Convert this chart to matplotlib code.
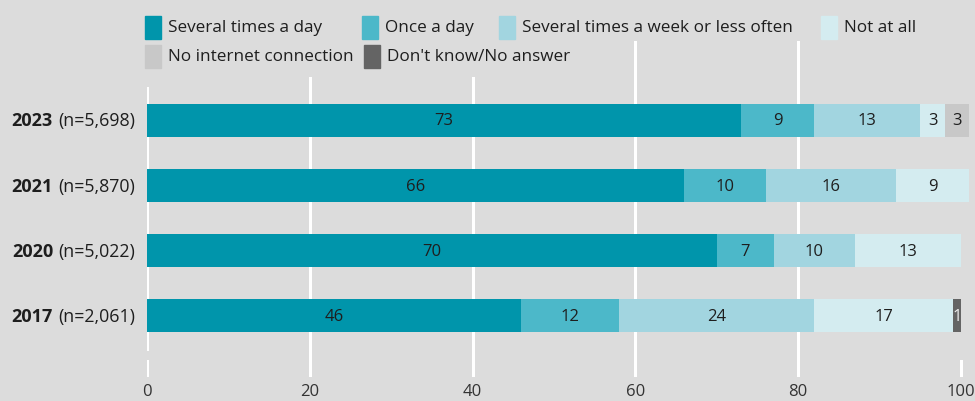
import matplotlib.pyplot as plt
import matplotlib.patches as mpatches
import numpy as np

# ---------- data ----------
years = ["2023", "2021", "2020", "2017"]
sample_sizes = ["(n=5,698)", "(n=5,870)", "(n=5,022)", "(n=2,061)"]

categories = ["Several times a day", "Once a day", "Several times a week or less often",
              "Not at all", "No internet connection", "Don't know/No answer"]
colors = ["#0095ab", "#4cb8c9", "#a2d5e0", "#d4ecf0", "#c8c8c8", "#646464"]

several_day = [73, 66, 70, 46]
once_day = [9, 10, 7, 12]
several_week = [13, 16, 10, 24]
not_at_all = [3, 9, 13, 17]
no_internet = [3, 0, 0, 0]
dont_know = [0, 0, 0, 1]

series = [several_day, once_day, several_week, not_at_all, no_internet, dont_know]

ticks = [0, 20, 40, 60, 80, 100]

# ---------- figure ----------
W, H = 975, 402
bg = "#dcdcdc"
txt = "#1e1e1e"
plt.rcParams['font.family'] = ['Open Sans', 'DejaVu Sans']
fig = plt.figure(figsize=(W / 100, H / 100), dpi=100, facecolor=bg)

def px(x, y):
    return x / W, 1 - y / H

ax_left, ax_right, ax_top, ax_bot = 147, 975, 42, 378
ax_h = ax_bot - ax_top
ax = fig.add_axes([ax_left / W, 1 - ax_bot / H, (ax_right - ax_left) / W, ax_h / H])
ax.set_facecolor(bg)
for s in ax.spines.values():
    s.set_visible(False)

ypos = np.arange(len(years))[::-1]  # 2023 on top
ax.set_xlim(0, 100 * (ax_right - ax_left) / (961 - 147))
ax.set_ylim(-0.946, 4.223)

def frac(y_px):
    return (ax_bot - y_px) / ax_h

# grid lines (legend text covers the top of some of them)
ax.axvline(20, ymax=frac(79), color="white", lw=2.2, zorder=0)
ax.axvline(40, ymax=frac(79), color="white", lw=2.2, zorder=0)
ax.axvline(60, color="white", lw=2.2, zorder=0)
ax.axvline(80, color="white", lw=2.2, zorder=0)
ax.axvline(0, ymin=frac(350), ymax=frac(89), color="white", lw=2.2, zorder=0)
for t in (0, 100):
    ax.axvline(t, ymin=frac(376), ymax=frac(362), color="white", lw=2.2, zorder=0)

left = np.zeros(len(years))
for vals, col in zip(series, colors):
    vals = np.array(vals, dtype=float)
    ax.barh(ypos, vals, left=left, height=0.508, color=col, edgecolor="none", zorder=2)
    for y, l, v in zip(ypos, left, vals):
        if v > 0:
            tc = "#eeeeee" if col == "#646464" else txt
            ax.text(l + v / 2, y, f"{int(v)}", ha="center", va="center",
                    fontsize=12, color=tc, zorder=3)
    left += vals

# x ticks
ax.set_xticks(ticks)
ax.set_xticklabels([str(t) for t in ticks], fontsize=12, color="#333333")
ax.tick_params(axis="x", length=0, pad=4)
ax.set_yticks([])

# year labels: bold year + regular sample size
for y, yr, n in zip(ypos, years, sample_sizes):
    t_n = ax.text(-12 / 8.14, y, n, ha="right", va="center", fontsize=12.8, color=txt)
    ax.annotate(yr, xy=(0, 0.5), xycoords=t_n, xytext=(-5, 0), textcoords="offset pixels",
                ha="right", va="center", fontsize=13, fontweight="bold", color=txt)

# ---------- legend ----------
leg_rows = [[0, 1, 2, 3], [4, 5]]
leg_x = [[145, 362, 499, 821], [145, 364]]
leg_y = [28, 57]
for row, xs, yc in zip(leg_rows, leg_x, leg_y):
    for i, x in zip(row, xs):
        x0, y0 = px(x, yc + 11.5)
        fig.add_artist(mpatches.Rectangle((x0, y0), 16 / W, 23 / H,
                                          transform=fig.transFigure, color=colors[i]))
        tx, ty = px(x + 23, yc)
        fig.text(tx, ty, categories[i], ha="left", va="center", fontsize=12.3, color=txt)

fig.savefig("out.png", dpi=100, facecolor=bg)
